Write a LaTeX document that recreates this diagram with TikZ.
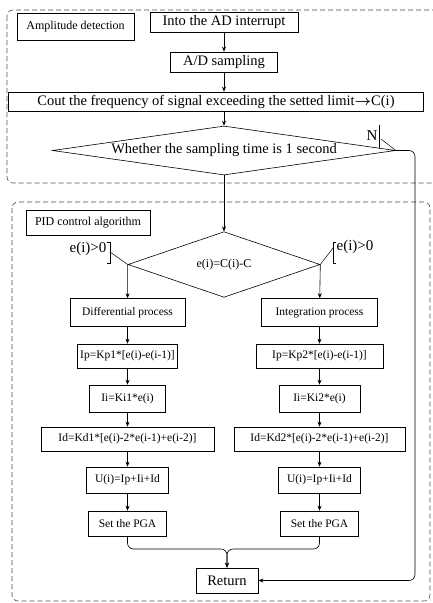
\documentclass[tikz,border=0pt]{standalone}
\usepackage{amsmath,amssymb}
\usepackage{fontspec}
\setmainfont{Liberation Serif}
\usetikzlibrary{shapes.geometric, arrows.meta, positioning, calc}
\tikzstyle{bigbox} = [rectangle, draw=black, line width=0.6pt, minimum height=20pt, inner sep=0pt, text centered, font=\fontsize{14.5}{14.5}\selectfont]
\tikzstyle{smallbox} = [rectangle, draw=black, line width=0.6pt, minimum height=25pt, inner sep=0pt, text centered, font=\fontsize{11.5}{11.5}\selectfont]
\tikzstyle{decision} = [diamond, draw=black, line width=0.6pt, inner sep=0pt, text centered]
\tikzstyle{arrow} = [line width=0.6pt,->,>={Stealth[length=5pt,width=4pt]}]
\tikzstyle{group} = [draw=black!70, dash pattern=on 5pt off 3pt, rounded corners=6pt, line width=0.6pt]
\tikzstyle{callout} = [line width=0.5pt]
\tikzstyle{tag} = [inner sep=0pt, font=\fontsize{15}{15}\selectfont]

\begin{document}
\begin{tikzpicture}[x=1pt, y=-1pt, node distance=42pt]
		\useasboundingbox (0,0) rectangle (433,603);
		\clip (0,0) rectangle (433,603);
		
		% amplitude detection
		\draw[group] (7,10) rectangle (440,183);
		
		\node (amp) [smallbox, minimum width=117pt, minimum height=27pt, font=\fontsize{12}{12}\selectfont] at (75.5,26.5) {Amplitude detection};
		
		\node (start) [bigbox, minimum width=148pt] at (224,22) {Into the AD interrupt};
		
		\node (ad) [bigbox, minimum width=107pt, below of=start, yshift=2pt] {A/D sampling};
		
		\node (cout) [bigbox, minimum width=415pt, minimum height=19pt, below of=ad, xshift=-8pt, yshift=2.5pt] {Cout the frequency of signal exceeding the setted limit$\boldsymbol{\rightarrow}$C(i)};
		
		\node (dec1) [decision, minimum width=343pt, minimum height=49pt, aspect=7, below of=cout, xshift=8pt, yshift=-7pt, font=\fontsize{14.5}{14.5}\selectfont] {Whether the sampling time is 1 second};
		
		\node (n) [tag] at (372,136) {N};
		\coordinate (nt) at (379,125);
		\coordinate (nb) at (379,148);
		\coordinate (nk) at (381,139);
		
		% PID control
		\draw[group] (12,202) rectangle (430,601);
		
		\node (pid) [smallbox, minimum width=124pt, font=\fontsize{12}{12}\selectfont] at (88,222.5) {PID control algorithm};
		
		\node (dec2) [decision, minimum width=192pt, minimum height=53pt, below of=dec1, yshift=-72pt, font=\fontsize{12}{12}\selectfont] {e(i)=C(i)-C};
		
		\node (yl) [tag] at (88,249) {e(i)>0};
		\coordinate (bl) at (110,252);
		\node (yr) [tag] at (355,247) {e(i)>0};
		\coordinate (br) at (333,248);
		
		\node (diff) [smallbox, minimum width=115pt, minimum height=28pt, below of=dec2, xshift=-96.5pt, yshift=-6pt] {Differential process};
		\node (ip1) [smallbox, minimum width=100pt, minimum height=24pt, below of=diff, yshift=-1.5pt] {Ip=Kp1*[e(i)-e(i-1)]};
		\node (ii1) [smallbox, minimum width=76pt, minimum height=27pt, below of=ip1, yshift=-0.5pt] {Ii=Ki1*e(i)};
		\node (id1) [smallbox, minimum width=173pt, minimum height=24pt, below of=ii1, yshift=1.5pt] {Id=Kd1*[e(i)-2*e(i-1)+e(i-2)]};
		\node (u1) [smallbox, minimum width=82pt, minimum height=26pt, below of=id1, yshift=1pt] {U(i)=Ip+Ii+Id};
		\node (pga1) [smallbox, minimum width=78pt, below of=u1, yshift=-1.5pt] {Set the PGA};
		
		\node (integ) [smallbox, minimum width=116pt, minimum height=28pt, below of=dec2, xshift=95.5pt, yshift=-6pt] {Integration process};
		\node (ip2) [smallbox, minimum width=127pt, minimum height=24pt, below of=integ, yshift=-1.5pt] {Ip=Kp2*[e(i)-e(i-1)]};
		\node (ii2) [smallbox, minimum width=81pt, minimum height=27pt, below of=ip2, yshift=-0.5pt] {Ii=Ki2*e(i)};
		\node (id2) [smallbox, minimum width=171pt, minimum height=24pt, below of=ii2, yshift=1.5pt] {Id=Kd2*[e(i)-2*e(i-1)+e(i-2)]};
		\node (u2) [smallbox, minimum width=82pt, minimum height=26pt, below of=id2, yshift=1pt] {U(i)=Ip+Ii+Id};
		\node (pga2) [smallbox, minimum width=78pt, below of=u2, yshift=-1.5pt] {Set the PGA};
		
		\node (ret) [bigbox, minimum width=62pt, minimum height=25pt] at (227,580.5) {Return};
		\coordinate (join) at (227,549);
		\coordinate (loop) at (415,580.5);
		
		\draw [arrow] (start) -- (ad);
		\draw [arrow] (ad) -- (ad |- cout.north);
		\draw [arrow] (cout.south -| dec1.north) -- (dec1);
		\draw [arrow] (dec1) -- (dec2);
		\draw [callout] (nt) -- (nb);
		\draw [callout] (nk) -- (dec1.east);
		\draw [arrow, rounded corners=6pt] (dec1.east) -| (loop) -- (ret.east);
		
		\draw [callout] ($(bl)+(-3,-10)$) -- ++(3,0) -- ++(0,21) -- ++(-3,0);
		\draw [callout] (bl) -- (dec2.west);
		\draw [callout] ($(br)+(3,-6)$) -- ++(-3,0) -- ++(0,21) -- ++(3,0);
		\draw [callout] (br) -- (dec2.east);
		
		\draw [arrow] (dec2.west) -- (diff);
		\draw [arrow] (diff) -- (ip1);
		\draw [arrow] (ip1) -- (ii1);
		\draw [arrow] (ii1) -- (id1);
		\draw [arrow] (id1) -- (u1);
		\draw [arrow] (u1) -- (pga1);
		\draw [arrow] (dec2.east) -- (integ);
		\draw [arrow] (integ) -- (ip2);
		\draw [arrow] (ip2) -- (ii2);
		\draw [arrow] (ii2) -- (id2);
		\draw [arrow] (id2) -- (u2);
		\draw [arrow] (u2) -- (pga2);
		\draw [arrow, rounded corners=6pt] (pga1) |- (join) -- (ret);
		\draw [arrow, rounded corners=6pt] (pga2) |- (join) -- (ret);
\end{tikzpicture}
\end{document}
